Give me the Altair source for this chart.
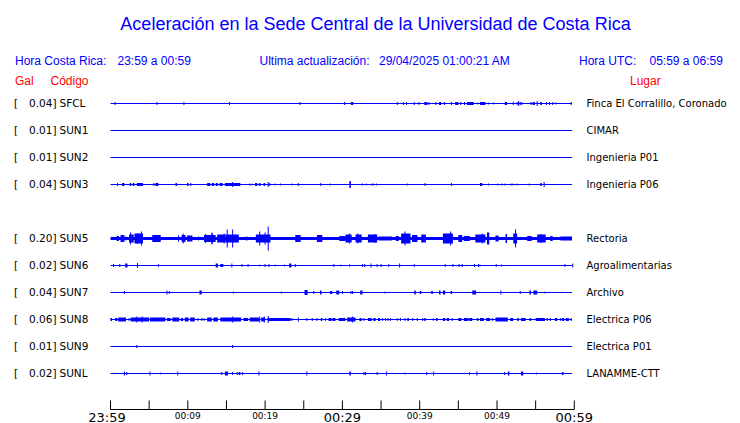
import altair as alt
import pandas as pd

# ---------------- station table ----------------
codes = ["SFCL", "SUN1", "SUN2", "SUN3", "SUN5", "SUN6", "SUN7", "SUN8", "SUN9", "SUNL"]
rows = [0, 1, 2, 3, 5, 6, 7, 8, 9, 10]
peak_gal = ["0.04", "0.01", "0.01", "0.04", "0.20", "0.02", "0.04", "0.06", "0.01", "0.02"]
places = ["Finca El Corralillo, Coronado", "CIMAR", "Ingenieria P01", "Ingenieria P06",
          "Rectoria", "Agroalimentarias", "Archivo", "Electrica P06", "Electrica P01", "LANAMME-CTT"]
noise_floor = [0.5, 0.5, 0.5, 0.5, 1.5, 0.5, 0.5, 0.5, 0.5, 0.5]
trace_end = 59.7

# ---------------- bursts: (start minute, end minute, half amplitude) ----------------
bursts_SFCL = [(0.6, 0.6, 1.5), (6.0, 6.0, 1.5), (9.5, 9.5, 1.5), (15.4, 15.4, 1.5), (24.5, 24.5, 1.5),
               (30.3, 30.3, 1.5), (31.1, 31.4, 1.5), (37.1, 37.1, 1.5), (37.9, 37.9, 1.5), (38.3, 38.3, 1.5),
               (39.3, 39.3, 1.5), (39.9, 39.9, 1.5), (40.6, 41.0, 1.5), (41.2, 41.2, 1.5), (42.1, 42.1, 1.5),
               (42.5, 42.8, 1.5), (43.2, 43.2, 1.5), (44.1, 44.1, 1.5), (44.6, 45.0, 1.5), (45.3, 45.3, 1.5),
               (45.8, 45.8, 1.5), (46.1, 47.0, 1.5), (47.5, 47.5, 1.0), (47.8, 48.5, 1.5), (48.9, 48.9, 1.0),
               (49.6, 49.6, 1.0), (51.0, 51.3, 1.5), (52.1, 52.1, 1.5), (52.6, 52.6, 1.5), (52.8, 52.8, 2.5),
               (53.0, 53.0, 1.5), (53.2, 53.2, 1.5), (54.4, 54.4, 1.5), (54.6, 54.9, 1.5), (55.2, 55.2, 2.5),
               (55.6, 55.8, 1.5), (56.4, 56.4, 1.5), (56.8, 56.8, 1.5), (57.2, 57.2, 1.5), (57.6, 57.6, 1.0),
               (59.6, 59.6, 1.5)]
bursts_SUN1 = []
bursts_SUN2 = []
bursts_SUN3 = [(0.9, 0.9, 1.5), (1.5, 1.8, 1.5), (2.5, 2.7, 1.5), (2.9, 3.1, 1.5), (3.4, 4.2, 1.5),
               (5.6, 5.6, 1.5), (5.8, 6.2, 1.5), (8.4, 8.6, 1.5), (9.9, 10.1, 1.5), (10.4, 10.4, 1.5),
               (12.5, 12.9, 1.5), (13.1, 13.4, 1.5), (13.6, 13.9, 1.5), (14.1, 14.5, 1.5), (14.8, 16.8, 1.5),
               (15.8, 15.8, 2.5), (18.0, 18.0, 1.0), (18.3, 18.3, 1.0), (18.7, 19.0, 1.5), (19.2, 19.4, 1.5),
               (19.8, 20.0, 1.5), (20.4, 20.4, 2.5), (20.6, 20.6, 1.5), (21.3, 21.3, 1.0), (22.0, 22.0, 1.0),
               (23.5, 23.5, 1.0), (24.3, 24.3, 1.5), (27.2, 27.2, 1.5), (28.4, 28.4, 1.0), (30.9, 31.1, 3.5),
               (32.6, 32.6, 1.0), (33.1, 33.1, 1.0), (33.8, 33.8, 1.0), (34.0, 34.0, 1.0), (34.4, 34.4, 1.0),
               (38.4, 38.4, 1.0), (40.7, 40.7, 1.5), (44.1, 44.1, 1.5), (47.8, 48.1, 1.5), (48.9, 48.9, 1.0),
               (50.1, 50.1, 1.0), (50.6, 50.6, 1.0), (51.0, 51.0, 1.0), (51.8, 51.8, 1.0), (52.1, 52.1, 1.0),
               (52.6, 52.6, 1.0), (54.2, 54.2, 1.0), (55.6, 55.8, 1.5), (56.1, 56.1, 2.5)]
bursts_SUN5 = [(0.8, 1.1, 2.5), (1.3, 1.8, 3.5), (2.0, 2.0, 2.0), (2.4, 3.0, 4.0), (2.6, 2.6, 6.0),
               (3.1, 4.2, 5.0), (4.0, 4.0, 7.0), (3.5, 3.5, 5.5), (5.4, 6.5, 3.5), (8.8, 8.8, 3.0),
               (9.2, 9.7, 3.5), (9.4, 9.4, 5.0), (9.9, 10.6, 3.0), (11.4, 11.4, 2.0), (12.1, 13.6, 3.5),
               (12.3, 12.3, 4.5), (13.1, 13.1, 6.0), (13.2, 13.2, 5.0), (13.8, 14.9, 4.0), (14.7, 14.7, 5.0),
               (14.9, 16.6, 4.0), (15.1, 15.1, 9.0), (15.8, 15.8, 9.0), (17.5, 17.7, 2.0), (18.8, 20.7, 4.0),
               (19.3, 19.3, 7.0), (20.0, 20.0, 6.0), (20.4, 20.4, 12.0), (23.9, 24.6, 3.5), (26.7, 27.4, 3.5),
               (29.6, 30.4, 2.5), (30.4, 31.2, 4.0), (30.9, 30.9, 5.0), (31.7, 32.5, 4.0), (32.0, 32.0, 5.0),
               (33.3, 34.5, 4.0), (34.2, 34.2, 4.5), (34.7, 36.4, 2.0), (36.9, 37.3, 2.5), (37.6, 38.8, 5.0),
               (38.1, 38.1, 7.0), (39.0, 39.7, 3.5), (40.2, 40.8, 4.0), (43.0, 44.3, 5.0), (44.0, 44.0, 7.0),
               (45.0, 45.5, 3.5), (45.7, 46.5, 2.5), (47.2, 48.5, 4.0), (48.1, 48.1, 5.0), (48.7, 49.0, 6.0),
               (49.8, 50.2, 3.0), (51.1, 51.3, 4.5), (52.1, 52.6, 5.0), (52.4, 52.4, 9.0), (53.9, 54.5, 2.5),
               (55.2, 56.3, 4.0), (55.7, 55.7, 4.5), (56.9, 57.2, 2.5), (58.2, 59.7, 2.0)]
bursts_SUN6 = [(0.4, 0.4, 1.5), (1.2, 1.2, 1.5), (1.9, 2.2, 2.0), (3.5, 3.5, 2.5), (6.2, 6.2, 1.5),
               (13.6, 13.9, 2.0), (14.2, 14.6, 1.5), (15.7, 15.7, 2.0), (17.0, 17.0, 1.5), (17.8, 17.8, 1.5),
               (19.3, 19.3, 1.0), (20.0, 20.0, 1.5), (20.5, 20.5, 1.5), (21.3, 21.3, 1.0), (22.5, 22.5, 1.0),
               (23.1, 23.4, 2.0), (23.9, 23.9, 1.5), (28.9, 28.9, 1.5), (29.8, 29.8, 1.0), (30.9, 31.0, 1.5),
               (32.6, 32.6, 1.5), (32.9, 32.9, 1.5), (33.7, 33.7, 2.0), (34.5, 34.5, 1.5), (35.0, 35.0, 1.5),
               (36.0, 36.0, 1.5), (37.4, 37.4, 2.0), (39.3, 39.3, 1.5), (43.3, 43.3, 1.5), (44.3, 44.3, 1.5),
               (45.1, 45.1, 1.5), (45.5, 45.5, 1.5), (47.1, 47.1, 1.5), (47.6, 47.6, 1.5), (47.8, 47.8, 1.0),
               (49.9, 49.9, 1.5), (50.6, 50.6, 1.0), (58.8, 58.8, 1.5), (59.8, 59.8, 2.0)]
bursts_SUN7 = [(1.8, 1.8, 1.5), (7.3, 7.3, 2.0), (7.6, 7.6, 1.5), (11.5, 11.8, 2.0), (15.9, 15.9, 1.0),
               (22.1, 22.1, 1.0), (25.1, 25.5, 2.5), (26.3, 26.3, 1.5), (27.1, 27.3, 2.0), (28.4, 28.7, 1.5),
               (29.2, 29.6, 2.0), (30.0, 30.0, 1.5), (31.1, 31.1, 1.5), (31.3, 31.3, 1.5), (32.3, 32.6, 2.0),
               (35.5, 35.5, 1.0), (39.3, 39.5, 2.0), (40.0, 40.2, 1.5), (41.5, 41.7, 1.5), (42.5, 42.7, 2.0),
               (43.0, 43.3, 2.0), (44.0, 44.2, 1.5), (46.8, 47.3, 2.0), (50.5, 50.5, 2.0), (53.0, 53.0, 1.5),
               (54.2, 54.4, 2.0), (54.7, 55.2, 2.0), (56.2, 56.2, 1.0)]
bursts_SUN8 = [(0.0, 0.2, 1.5), (0.6, 0.9, 1.5), (1.0, 2.0, 2.0), (2.4, 2.4, 1.5), (2.6, 5.0, 2.0),
               (3.4, 3.4, 3.0), (4.1, 4.1, 3.0), (5.1, 7.1, 2.0), (7.3, 7.8, 1.5), (8.0, 8.9, 2.0),
               (9.1, 9.4, 1.5), (9.6, 10.1, 2.0), (10.3, 10.9, 2.0), (11.3, 11.3, 1.5), (11.8, 11.8, 1.5),
               (12.1, 12.1, 1.5), (12.5, 13.1, 2.0), (13.3, 13.9, 2.0), (14.2, 16.9, 2.0), (15.8, 15.8, 3.0),
               (17.2, 17.8, 1.5), (18.0, 19.2, 2.0), (19.3, 19.3, 3.0), (19.5, 20.0, 2.0), (19.9, 19.9, 3.0),
               (20.4, 20.4, 3.5), (20.3, 23.3, 1.5), (23.5, 23.5, 1.5), (24.3, 24.3, 2.0), (25.4, 25.4, 1.5),
               (26.1, 26.1, 1.5), (26.7, 26.7, 1.5), (27.2, 27.4, 1.5), (27.8, 27.8, 1.5), (28.2, 28.6, 1.5),
               (28.7, 29.1, 1.5), (29.5, 30.4, 1.5), (30.6, 31.7, 2.0), (31.3, 31.3, 3.0), (32.2, 32.5, 1.5),
               (32.8, 32.8, 1.5), (33.3, 33.8, 1.5), (34.0, 34.3, 1.5), (34.6, 34.9, 1.5), (35.2, 35.2, 1.5),
               (35.6, 35.6, 1.5), (35.9, 35.9, 1.5), (36.2, 36.2, 1.5), (37.1, 37.1, 1.5), (37.5, 37.5, 1.5),
               (38.1, 38.1, 1.5), (38.4, 38.6, 1.5), (39.1, 39.1, 1.5), (39.7, 39.7, 1.5), (40.4, 40.4, 1.5),
               (40.6, 40.8, 1.5), (41.7, 41.8, 1.5), (42.1, 42.3, 1.5), (43.0, 43.3, 1.5), (43.5, 43.8, 1.5),
               (44.2, 44.2, 1.5), (45.0, 45.4, 1.5), (45.7, 46.3, 1.5), (46.4, 46.8, 1.5), (47.4, 47.6, 1.5),
               (47.8, 48.3, 1.5), (48.6, 49.1, 1.5), (49.4, 49.4, 1.5), (49.8, 51.4, 2.0), (51.7, 52.1, 1.5),
               (52.6, 52.8, 1.5), (53.1, 53.7, 1.5), (54.2, 54.4, 1.5), (55.0, 56.2, 1.5), (56.5, 56.5, 1.5),
               (56.9, 56.9, 1.5), (57.5, 57.8, 1.5), (58.2, 58.2, 1.5), (58.4, 58.7, 1.5), (58.9, 59.3, 1.5),
               (59.6, 59.6, 1.5)]
bursts_SUN9 = [(3.4, 3.4, 1.5), (15.8, 15.8, 1.5)]
bursts_SUNL = [(1.8, 1.8, 2.0), (2.1, 2.1, 1.5), (5.1, 5.1, 2.0), (6.5, 6.5, 1.0), (8.7, 8.7, 2.0),
               (14.4, 14.4, 1.5), (14.8, 15.2, 2.0), (15.8, 15.8, 1.5), (16.4, 16.4, 1.5), (16.6, 16.8, 1.5),
               (17.1, 17.1, 1.5), (19.2, 19.2, 2.0), (25.4, 25.4, 2.0), (30.9, 31.1, 2.0), (32.8, 32.8, 1.5),
               (33.0, 33.0, 1.5), (34.5, 34.5, 1.5), (35.7, 35.7, 2.0), (38.1, 38.1, 1.0), (40.9, 40.9, 1.5),
               (41.8, 41.8, 2.0), (46.4, 46.5, 1.5), (47.4, 47.4, 2.0), (51.0, 51.0, 1.5), (51.4, 51.6, 2.0),
               (53.1, 53.4, 2.0), (55.1, 55.1, 1.0), (58.4, 58.6, 1.5)]

bursts = {"SFCL": bursts_SFCL, "SUN1": bursts_SUN1, "SUN2": bursts_SUN2, "SUN3": bursts_SUN3,
          "SUN5": bursts_SUN5, "SUN6": bursts_SUN6, "SUN7": bursts_SUN7, "SUN8": bursts_SUN8,
          "SUN9": bursts_SUN9, "SUNL": bursts_SUNL}

# ---------------- time axis ----------------
tick_minutes = [0, 5, 10, 15, 20, 25, 30, 35, 40, 45, 50, 55, 60]
major_minutes = [0, 30, 60]
major_labels = ["23:59", "00:29", "00:59"]
minor_minutes = [10, 20, 40, 50]
minor_labels = ["00:09", "00:19", "00:39", "00:49"]

ROW = 27  # amplitude units per row spacing
BLUE = "#0000ff"
RED = "#ff0000"

# ---------------- frames ----------------
stations = pd.DataFrame({"code": codes, "row": rows, "gal": [g + "]" for g in peak_gal],
                         "place": places, "floor": noise_floor})
stations["yc"] = stations["row"] * ROW
stations["lo"] = stations["yc"] - stations["floor"]
stations["hi"] = stations["yc"] + stations["floor"]
stations["t0"] = 0.0
stations["t1"] = trace_end

recs = []
for c, r in zip(codes, rows):
    for s, e, a in bursts[c]:
        recs.append({"code": c, "start": s, "end": e, "lo": r * ROW - a, "hi": r * ROW + a})
bdf = pd.DataFrame(recs)
spikes = bdf[bdf["start"] == bdf["end"]]
blocks = bdf[bdf["start"] != bdf["end"]]

xs = alt.Scale(domain=[0, 60], range=[102.5, 566.3], zero=False, nice=False)
ys = alt.Scale(domain=[0, 270], range=[95.5, 365.5], zero=False, nice=False)

baselines = alt.Chart(stations).mark_rect(color=BLUE).encode(
    x=alt.X("t0:Q", scale=xs, axis=None), x2="t1:Q",
    y=alt.Y("lo:Q", scale=ys, axis=None), y2="hi:Q")

block_layer = alt.Chart(blocks).mark_rect(color=BLUE).encode(
    x=alt.X("start:Q", scale=xs, axis=None), x2="end:Q",
    y=alt.Y("lo:Q", scale=ys, axis=None), y2="hi:Q")

spike_layer = alt.Chart(spikes).mark_rule(color=BLUE, strokeWidth=1).encode(
    x=alt.X("start:Q", scale=xs, axis=None),
    y=alt.Y("lo:Q", scale=ys, axis=None), y2="hi:Q")

LBL_FONT = "DejaVu Sans"
bracket = alt.Chart(stations).mark_text(align="left", baseline="alphabetic", fontSize=10.5,
                                        font=LBL_FONT, color="black", dy=3.5).encode(
    x=alt.value(6), y=alt.Y("yc:Q", scale=ys, axis=None), text=alt.value("["))
galtxt = alt.Chart(stations).mark_text(align="right", baseline="alphabetic", fontSize=10.5,
                                       font=LBL_FONT, color="black", dy=3.5).encode(
    x=alt.value(48.5), y=alt.Y("yc:Q", scale=ys, axis=None), text="gal:N")
codetxt = alt.Chart(stations).mark_text(align="left", baseline="alphabetic", fontSize=10.5,
                                        font=LBL_FONT, color="black", dy=3.5).encode(
    x=alt.value(51.5), y=alt.Y("yc:Q", scale=ys, axis=None), text="code:N")
placetxt = alt.Chart(stations).mark_text(align="left", baseline="alphabetic", fontSize=10,
                                         font=LBL_FONT, color="black", dy=3.5).encode(
    x=alt.value(578.5), y=alt.Y("yc:Q", scale=ys, axis=None), text="place:N")

# axis
ticks_df = pd.DataFrame({"m": tick_minutes})
axis_line = alt.Chart(ticks_df).mark_rule(color="black", strokeWidth=1).encode(
    x=alt.X("min(m):Q", scale=xs, axis=None), x2="max(m):Q", y=alt.value(401.5))
axis_ticks = alt.Chart(ticks_df).mark_rule(color="black", strokeWidth=1).encode(
    x=alt.X("m:Q", scale=xs, axis=None), y=alt.value(392.5), y2=alt.value(401.5))
maj = pd.DataFrame({"m": major_minutes, "lab": major_labels})
maj_first = alt.Chart(maj.iloc[:1]).mark_text(baseline="alphabetic", fontSize=13, font=LBL_FONT,
                                             color="black", dx=-3.5).encode(
    x=alt.X("m:Q", scale=xs, axis=None), y=alt.value(413.5), text="lab:N")
maj_rest = alt.Chart(maj.iloc[1:]).mark_text(baseline="alphabetic", fontSize=13, font=LBL_FONT,
                                            color="black").encode(
    x=alt.X("m:Q", scale=xs, axis=None), y=alt.value(413.5), text="lab:N")
mino = alt.Chart(pd.DataFrame({"m": minor_minutes, "lab": minor_labels})).mark_text(
    baseline="alphabetic", fontSize=9, font=LBL_FONT, color="black").encode(
    x=alt.X("m:Q", scale=xs, axis=None), y=alt.value(411), text="lab:N")


def label(text, x, y, size, color, align="left", font="Liberation Sans"):
    return alt.Chart(pd.DataFrame({"t": [text]})).mark_text(
        align=align, baseline="alphabetic", fontSize=size, color=color, font=font).encode(
        x=alt.value(x), y=alt.value(y), text="t:N")


headers = [
    label("Aceleración en la Sede Central de la Universidad de Costa Rica", 367.5, 22, 18, BLUE, "center"),
    label("Hora Costa Rica:", 7, 56.5, 12, BLUE),
    label("23:59 a 00:59", 109.5, 56.5, 12, BLUE),
    label("Ultima actualización:", 251.5, 56.5, 12, BLUE),
    label("29/04/2025 01:00:21 AM", 371, 56.5, 12, BLUE),
    label("Hora UTC:", 571, 56.5, 12, BLUE),
    label("05:59 a 06:59", 641.5, 56.5, 12, BLUE),
    label("Gal", 7, 76.5, 12, RED),
    label("Código", 42.5, 76.5, 12, RED),
    label("Lugar", 622, 76.5, 12, RED),
]

chart = alt.layer(
    baselines, block_layer, spike_layer,
    bracket, galtxt, codetxt, placetxt,
    axis_line, axis_ticks, maj_first, maj_rest, mino,
    *headers
).properties(
    width=724, height=415, padding=0,
    autosize=alt.AutoSizeParams(type="none"),
    background="white",
).configure_view(stroke=None)

chart.save("out.html", embed_options={"renderer": "svg", "actions": False})
